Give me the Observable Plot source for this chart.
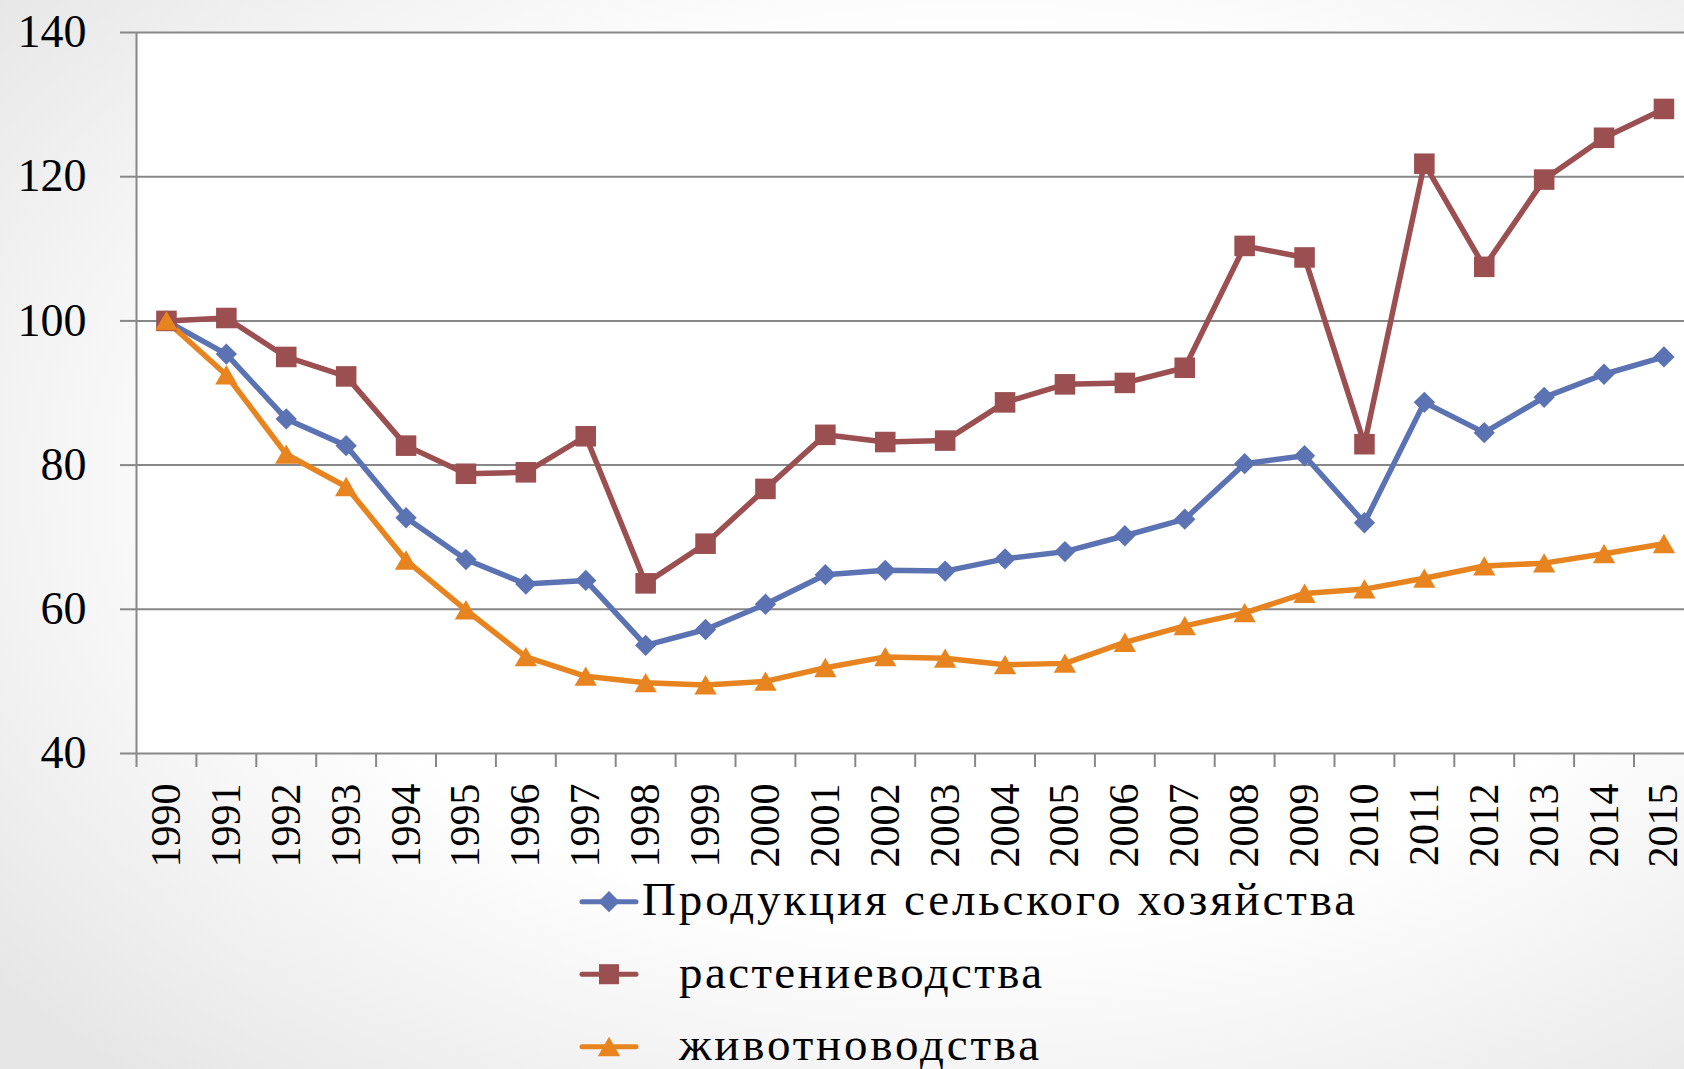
<!DOCTYPE html>
<html>
<head>
<meta charset="utf-8">
<script src="https://cdn.jsdelivr.net/npm/d3@7"></script>
<script src="https://cdn.jsdelivr.net/npm/@observablehq/plot@0.6"></script>
<style>
  html, body { margin: 0; padding: 0; }
  body {
    width: 1684px; height: 1069px; overflow: hidden; position: relative;
    background: radial-gradient(ellipse 75% 75% at 58% 45%, #ffffff 55%, #e6e6e6 100%);
    font-family: "Liberation Serif", serif;
  }
  #chart { position: absolute; left: 0; top: 0; }
  #legend { position: absolute; left: 0; top: 870px; }
</style>
</head>
<body>
<div id="chart"></div>
<div id="legend"></div>
<script>
const years = [1990,1991,1992,1993,1994,1995,1996,1997,1998,1999,2000,2001,2002,2003,2004,2005,2006,2007,2008,2009,2010,2011,2012,2013,2014,2015];
const total = [100,95.4,86.4,82.7,72.7,66.9,63.5,64.0,55.0,57.2,60.7,64.8,65.4,65.3,67.0,68.0,70.2,72.5,80.2,81.3,72.0,88.7,84.5,89.4,92.6,95.0];
const crops = [100,100.4,95.0,92.3,82.7,78.8,79.0,84.0,63.6,69.1,76.7,84.2,83.2,83.4,88.7,91.2,91.4,93.5,110.4,108.8,82.9,121.8,107.5,119.6,125.4,129.4];
const livestock = [100,92.5,81.5,77.0,66.8,59.9,53.4,50.7,49.8,49.5,50.0,51.9,53.4,53.2,52.3,52.5,55.4,57.7,59.5,62.2,62.8,64.3,66.0,66.4,67.7,69.1];
const seriesNames = ["Продукция сельского хозяйства", "растениеводства", "животноводства"];
const colors = ["#5b72b3", "#9b4f50", "#e8841f"];
const yTicks = [40, 60, 80, 100, 120, 140];

const seriesValues = [total, crops, livestock];
const data = seriesNames.flatMap((name, i) => years.map((year, j) => ({series: name, year, value: seriesValues[i][j]})));
const boundaries = years.map(y => y - 0.5).concat([years[years.length - 1] + 0.5]);

const gray = "#878787";
const bySeries = (i) => data.filter(d => d.series === seriesNames[i]);

const plot = Plot.plot({
  width: 1684,
  height: 880,
  marginLeft: 136,
  marginRight: 0,
  marginTop: 32,
  marginBottom: 127,
  style: {fontFamily: "Liberation Serif", background: "transparent", overflow: "visible"},
  x: {type: "linear", domain: [boundaries[0], boundaries[boundaries.length - 1]], range: [136, 136 + 26 * 59.9]},
  y: {domain: [40, 140]},
  color: {domain: seriesNames, range: colors},
  marks: [
    Plot.frame({fill: "white", stroke: "none"}),
    Plot.gridY(yTicks, {stroke: gray, strokeOpacity: 1, strokeWidth: 2}),
    Plot.ruleX(boundaries.slice(0, 1), {stroke: gray, strokeWidth: 2}),
    Plot.axisY({ticks: yTicks, tickSize: 16, tickPadding: 34, fontSize: 46, stroke: gray, strokeWidth: 2, fill: "black", label: null}),
    Plot.axisX({ticks: boundaries, tickSize: 14, tickFormat: () => "", stroke: gray, strokeWidth: 2, label: null}),
    Plot.axisX({ticks: years, tickSize: 0, tickPadding: 30, tickRotate: -90, fontSize: 42, fill: "black", tickFormat: d => String(d), label: null}),
    Plot.line(data, {x: "year", y: "value", z: "series", stroke: "series", strokeWidth: 5.5, strokeLinejoin: "round", strokeLinecap: "round"}),
    Plot.dot(bySeries(0), {x: "year", y: "value", symbol: "diamond2", r: 9.6, fill: "series", stroke: "none"}),
    Plot.dot(bySeries(1), {x: "year", y: "value", symbol: "square", r: 11.6, fill: "series", stroke: "none"}),
    Plot.dot(bySeries(2), {x: "year", y: "value", symbol: "triangle", r: 8.3, dy: 3, fill: "series", stroke: "none"})
  ]
});
document.getElementById("chart").appendChild(plot);

// Legend (below the chart)
const symbols = [[d3.symbolDiamond2, Math.PI * 9.6 * 9.6, 0], [d3.symbolSquare, Math.PI * 11.3 * 11.3, 0], [d3.symbolTriangle, Math.PI * 8.3 * 8.3, 3]];
const textX = [642, 679, 679];
const textLen = [713, 363, 360];
const lg = d3.select("#legend").append("svg").attr("width", 1684).attr("height", 199)
  .style("font-family", "Liberation Serif");
seriesNames.forEach((name, i) => {
  const cy = 31.7 + i * 72.5;
  const g = lg.append("g");
  g.append("line").attr("x1", 582).attr("x2", 636).attr("y1", cy).attr("y2", cy)
    .attr("stroke", colors[i]).attr("stroke-width", 5).attr("stroke-linecap", "round");
  g.append("path").attr("d", d3.symbol(symbols[i][0], symbols[i][1])())
    .attr("transform", `translate(609,${cy + symbols[i][2]})`).attr("fill", colors[i]);
  g.append("text").attr("x", textX[i]).attr("y", cy + 13.5).attr("font-size", 47)
    .attr("textLength", textLen[i]).attr("lengthAdjust", "spacing")
    .attr("fill", "black").text(name);
});
</script>
</body>
</html>
